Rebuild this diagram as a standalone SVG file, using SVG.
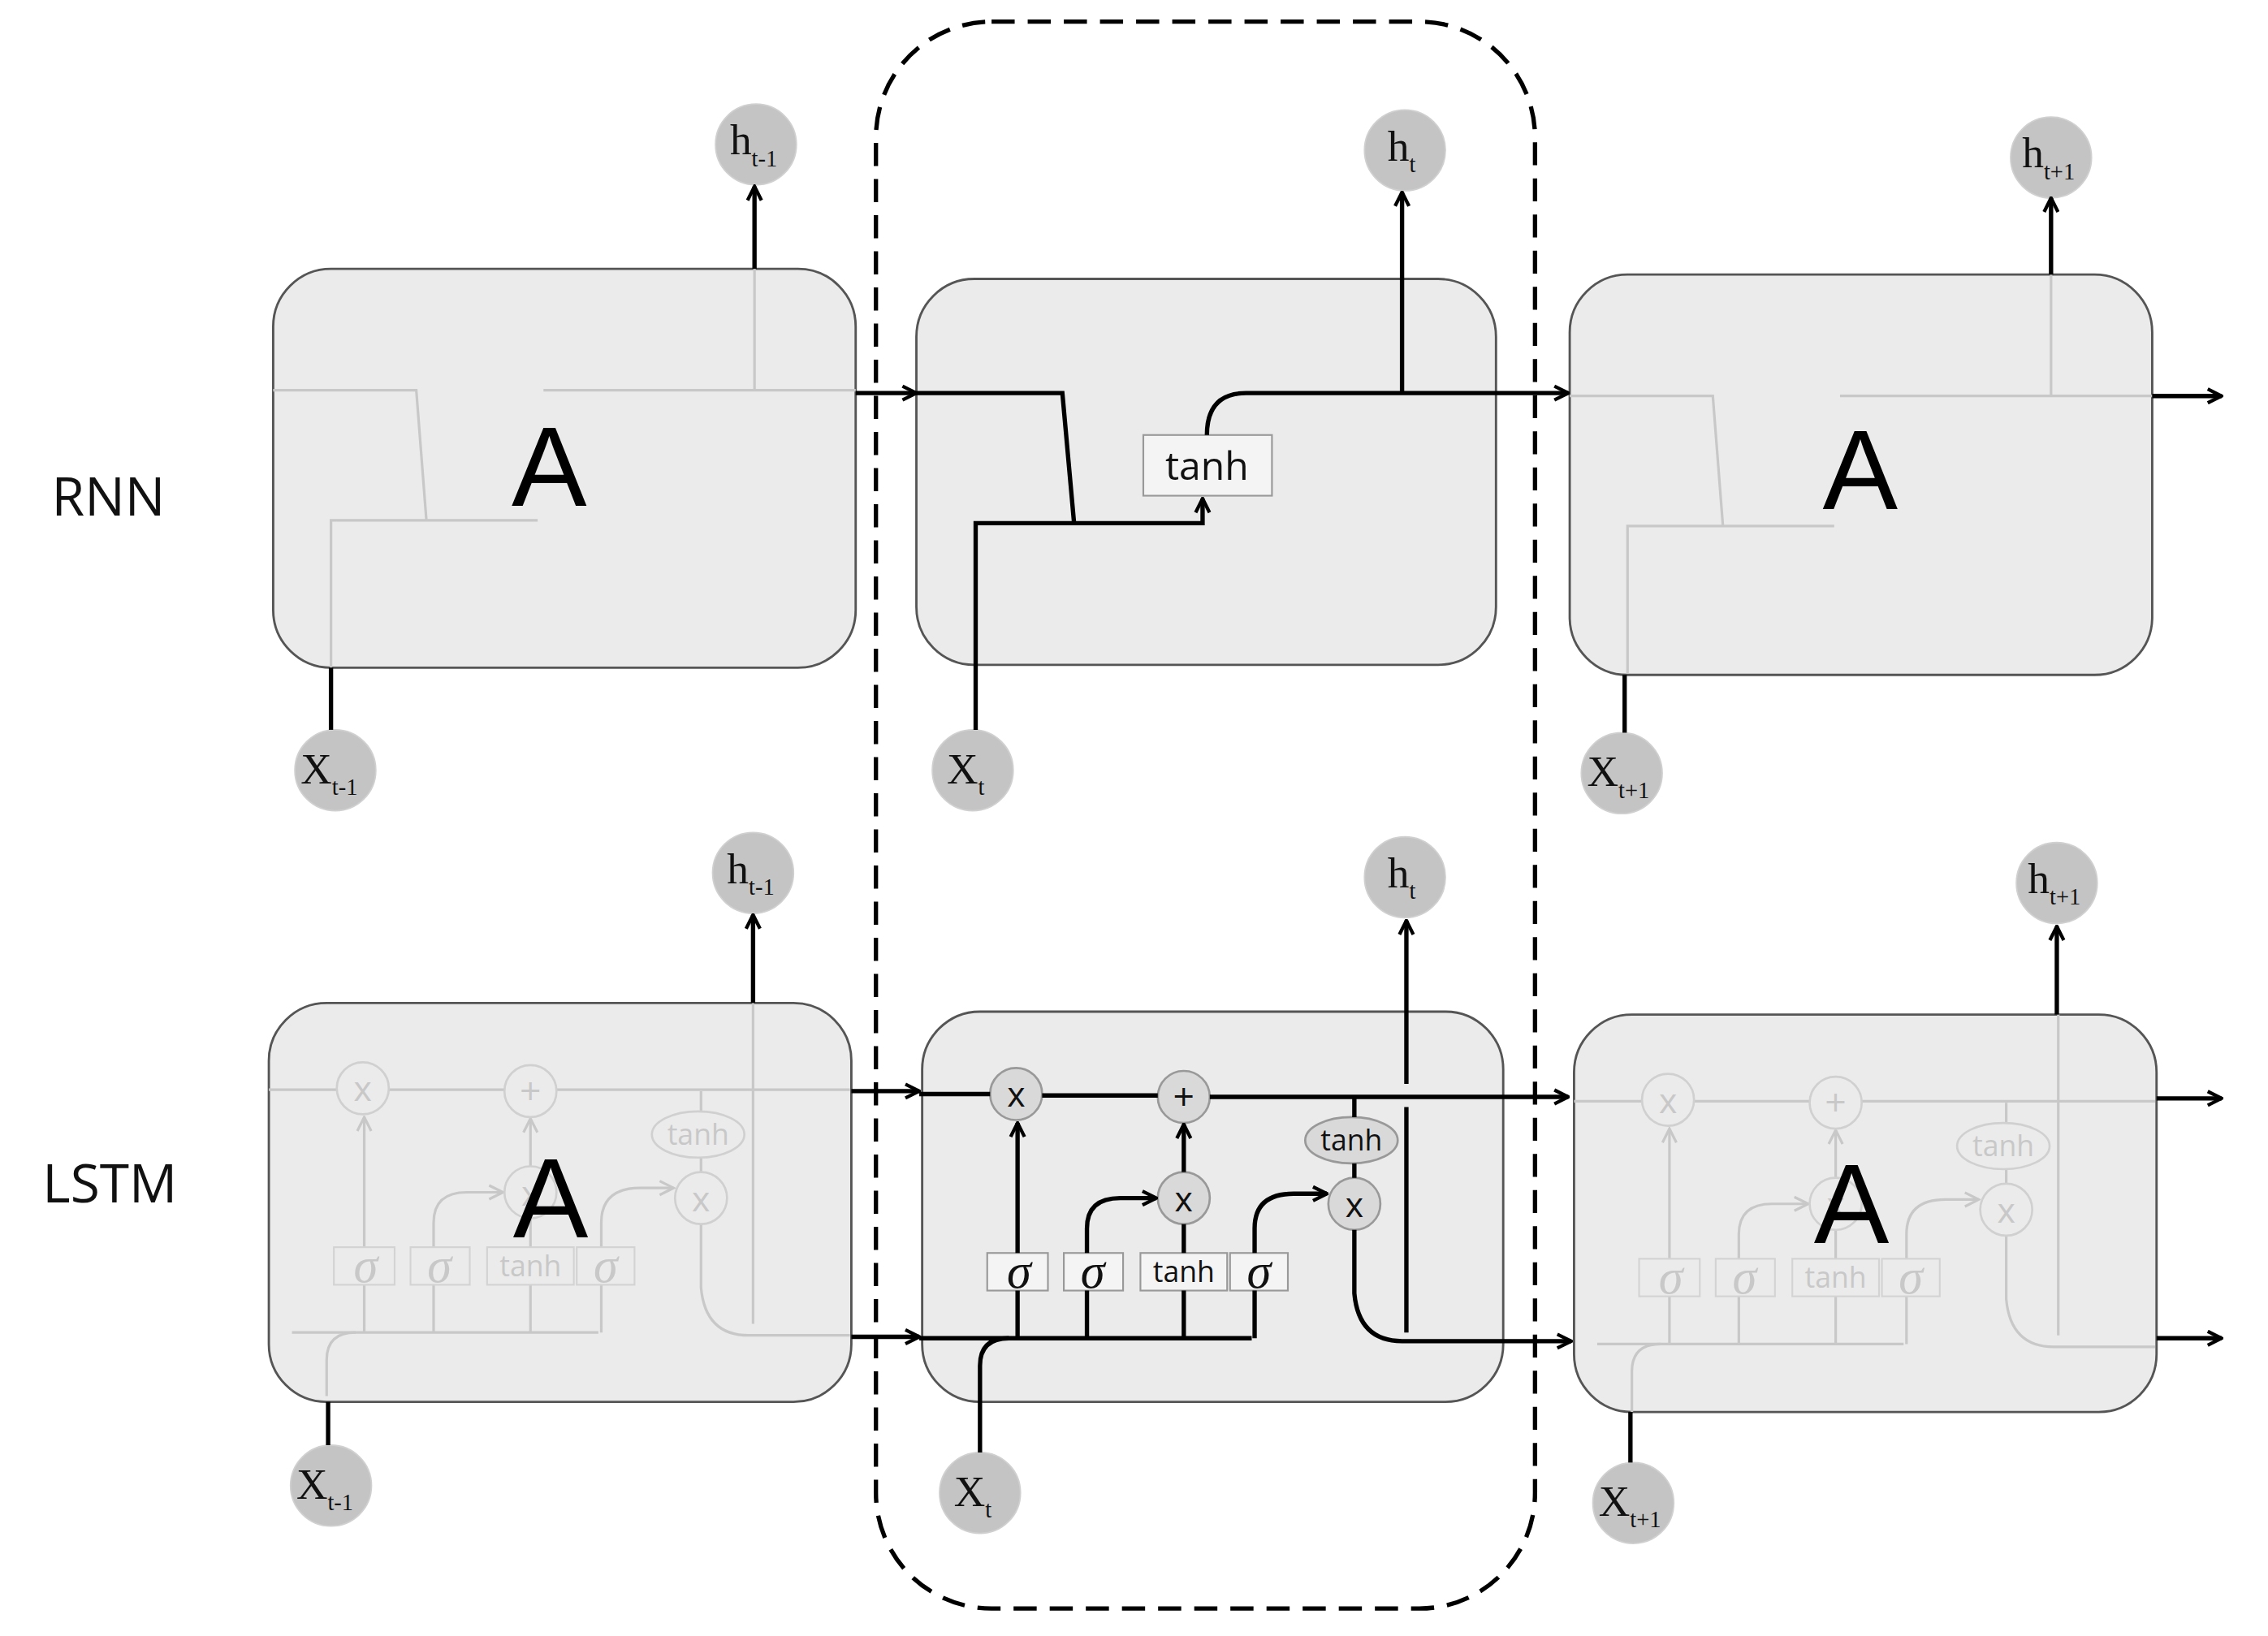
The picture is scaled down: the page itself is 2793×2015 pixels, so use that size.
<svg xmlns="http://www.w3.org/2000/svg" width="2793" height="2015" viewBox="0 0 2793 2015">
<style>
.box{fill:#ebebeb;stroke:#555;stroke-width:1.6}
.k{fill:none;stroke:#000;stroke-width:3}
.f{fill:none;stroke:#c8c8c8;stroke-width:1.8}
.io{fill:#c4c4c4;stroke:#d0d0d0;stroke-width:1}
.iot{font-family:"Liberation Serif",serif;font-size:30px;fill:#111}
.sub{font-size:16px}
.op{fill:#d9d9d9;stroke:#999;stroke-width:1.5}
.opf{fill:none;stroke:#d0d0d0;stroke-width:1.5}
.gb{fill:#f4f4f4;stroke:#999;stroke-width:1.2}
.gbf{fill:none;stroke:#d3d3d3;stroke-width:1.2}
.t{font-family:"Open Sans","DejaVu Sans",sans-serif;fill:#111;text-anchor:middle}
.tf{font-family:"Open Sans","DejaVu Sans",sans-serif;fill:#c8c8c8;text-anchor:middle}
.sg{font-family:"Liberation Serif",serif;font-style:italic;text-anchor:middle}
.A{font-family:"Liberation Sans",sans-serif;font-size:78px;fill:#000;text-anchor:middle}
.lbl{font-family:"Open Sans","DejaVu Sans",sans-serif;font-size:37px;fill:#111;text-anchor:middle}
</style>
<defs>
<marker id="ak" viewBox="0 0 10 10" refX="9" refY="5" markerWidth="12" markerHeight="12" markerUnits="userSpaceOnUse" orient="auto"><path d="M1,1 L9,5 L1,9" fill="none" stroke="#000" stroke-width="2"/></marker>
<marker id="af" viewBox="0 0 10 10" refX="9" refY="5" markerWidth="12" markerHeight="12" markerUnits="userSpaceOnUse" orient="auto"><path d="M1,1 L9,5 L1,9" fill="none" stroke="#c8c8c8" stroke-width="1.5"/></marker>
</defs>
<rect width="2793" height="2015" fill="#fff"/>
<g transform="scale(1.78)">
<rect id="focus" x="606" y="15" width="456" height="1098" rx="80" fill="none" stroke="#000" stroke-width="3" stroke-dasharray="16,9"/>
<text class="lbl" x="75" y="357">RNN</text>
<text class="lbl" x="76" y="832">LSTM</text>

<g id="rnn1">
<rect class="box" x="189" y="186" width="403" height="276" rx="40"/>
<path class="f" d="M189,270 H288 L295,360 M229,462 V360 H372 M376,270 H592 M522,270 V186"/>
<text class="A" x="380" y="350">A</text>
</g>
<g id="rnn2">
<rect class="box" x="634" y="193" width="401" height="267" rx="40"/>
<rect class="gb" x="791" y="301" width="89" height="42"/>
<text class="t" x="835" y="332" font-size="27">tanh</text>
</g>
<g id="rnn3">
<rect class="box" x="1086" y="190" width="403" height="277" rx="40"/>
<path class="f" d="M1086,274 H1185 L1192,364 M1126,466 V364 H1269 M1273,274 H1489 M1419,274 V190"/>
<text class="A" x="1287" y="352">A</text>
</g>

<g id="lstm1">
<rect class="box" x="186" y="694" width="403" height="276" rx="40"/>
<g transform="translate(-452,-4)">
<path class="f" d="M638,758 H685 M721,758 H801 M837,758 H1040"/>
<path class="f" d="M654,926 H866 M937,851 V895 Q940,928 970,928 H1040"/>
<path class="f" d="M704,867 V777" marker-end="url(#af)"/>
<path class="f" d="M704,926 V893 M752,926 V893 M819,926 V893 M868,926 V893 M819,867 V847 M937,759 V773 M937,805 V815"/>
<path class="f" d="M752,867 V850 Q752,829 775,829 H800" marker-end="url(#af)"/>
<path class="f" d="M819,811 V778" marker-end="url(#af)"/>
<path class="f" d="M868,867 V850 Q868,826 895,826 H918" marker-end="url(#af)"/>
<path class="f" d="M678,970 V945 Q678,926 698,926"/>
<path class="f" d="M973,920 V698"/>
<circle class="opf" cx="703" cy="757" r="18"/><circle class="opf" cx="819" cy="759" r="18"/>
<circle class="opf" cx="819" cy="829" r="18"/><circle class="opf" cx="937" cy="833" r="18"/>
<ellipse class="opf" cx="935" cy="789" rx="32" ry="16"/>
<rect class="gbf" x="683" y="867" width="42" height="26"/><rect class="gbf" x="736" y="867" width="41" height="26"/>
<rect class="gbf" x="789" y="867" width="60" height="26"/><rect class="gbf" x="851" y="867" width="40" height="26"/>
<text class="tf" x="703" y="766" font-size="24">x</text><text class="tf" x="819" y="768" font-size="26">+</text>
<text class="tf" x="819" y="838" font-size="24">x</text><text class="tf" x="937" y="842" font-size="24">x</text>
<text class="tf" x="935" y="796" font-size="20">tanh</text><text class="tf" x="819" y="887" font-size="20">tanh</text>
<text class="tf sg" x="705" y="891" font-size="34">σ</text><text class="tf sg" x="756" y="891" font-size="34">σ</text><text class="tf sg" x="871" y="891" font-size="34">σ</text>
</g>
<text class="A" x="381" y="856">A</text>
</g>

<g id="lstm2">
<rect class="box" x="638" y="700" width="402" height="270" rx="40"/>
<circle class="op" cx="703" cy="757" r="18"/><circle class="op" cx="819" cy="759" r="18"/>
<circle class="op" cx="819" cy="829" r="18"/><circle class="op" cx="937" cy="833" r="18"/>
<ellipse class="op" cx="935" cy="789" rx="32" ry="16"/>
<rect class="gb" x="683" y="867" width="42" height="26"/><rect class="gb" x="736" y="867" width="41" height="26"/>
<rect class="gb" x="789" y="867" width="60" height="26"/><rect class="gb" x="851" y="867" width="40" height="26"/>
<text class="t" x="703" y="766" font-size="24">x</text><text class="t" x="819" y="768" font-size="26">+</text>
<text class="t" x="819" y="838" font-size="24">x</text><text class="t" x="937" y="842" font-size="24">x</text>
<text class="t" x="935" y="796" font-size="20">tanh</text><text class="t" x="819" y="887" font-size="20">tanh</text>
<text class="t sg" x="705" y="891" font-size="34">σ</text><text class="t sg" x="756" y="891" font-size="34">σ</text><text class="t sg" x="871" y="891" font-size="34">σ</text>
</g>

<g id="lstm3">
<rect class="box" x="1089" y="702" width="403" height="275" rx="40"/>
<g transform="translate(451,4)">
<path class="f" d="M638,758 H685 M721,758 H801 M837,758 H1040"/>
<path class="f" d="M654,926 H866 M937,851 V895 Q940,928 970,928 H1040"/>
<path class="f" d="M704,867 V777" marker-end="url(#af)"/>
<path class="f" d="M704,926 V893 M752,926 V893 M819,926 V893 M868,926 V893 M819,867 V847 M937,759 V773 M937,805 V815"/>
<path class="f" d="M752,867 V850 Q752,829 775,829 H800" marker-end="url(#af)"/>
<path class="f" d="M819,811 V778" marker-end="url(#af)"/>
<path class="f" d="M868,867 V850 Q868,826 895,826 H918" marker-end="url(#af)"/>
<path class="f" d="M678,973 V945 Q678,926 698,926"/>
<path class="f" d="M973,920 V698"/>
<circle class="opf" cx="703" cy="757" r="18"/><circle class="opf" cx="819" cy="759" r="18"/>
<circle class="opf" cx="819" cy="829" r="18"/><circle class="opf" cx="937" cy="833" r="18"/>
<ellipse class="opf" cx="935" cy="789" rx="32" ry="16"/>
<rect class="gbf" x="683" y="867" width="42" height="26"/><rect class="gbf" x="736" y="867" width="41" height="26"/>
<rect class="gbf" x="789" y="867" width="60" height="26"/><rect class="gbf" x="851" y="867" width="40" height="26"/>
<text class="tf" x="703" y="766" font-size="24">x</text><text class="tf" x="819" y="768" font-size="26">+</text>
<text class="tf" x="819" y="838" font-size="24">x</text><text class="tf" x="937" y="842" font-size="24">x</text>
<text class="tf" x="935" y="796" font-size="20">tanh</text><text class="tf" x="819" y="887" font-size="20">tanh</text>
<text class="tf sg" x="705" y="891" font-size="34">σ</text><text class="tf sg" x="756" y="891" font-size="34">σ</text><text class="tf sg" x="871" y="891" font-size="34">σ</text>
</g>
<text class="A" x="1281" y="860">A</text>
</g>

<g id="h_rnn1"><circle class="io" cx="523" cy="100" r="28"/><text class="iot" x="505" y="107">h<tspan class="sub" dy="8">t-1</tspan></text></g>
<g id="h_rnn2"><circle class="io" cx="972" cy="104" r="28"/><text class="iot" x="960" y="111">h<tspan class="sub" dy="8">t</tspan></text></g>
<g id="h_rnn3"><circle class="io" cx="1419" cy="109" r="28"/><text class="iot" x="1399" y="116">h<tspan class="sub" dy="8">t+1</tspan></text></g>
<g id="x_rnn1"><circle class="io" cx="232" cy="533" r="28"/><text class="iot" x="208" y="542">X<tspan class="sub" dy="8">t-1</tspan></text></g>
<g id="x_rnn2"><circle class="io" cx="673" cy="533" r="28"/><text class="iot" x="655" y="542">X<tspan class="sub" dy="8">t</tspan></text></g>
<g id="x_rnn3"><circle class="io" cx="1122" cy="535" r="28"/><text class="iot" x="1098" y="544">X<tspan class="sub" dy="8">t+1</tspan></text></g>
<g id="h_lstm1"><circle class="io" cx="521" cy="604" r="28"/><text class="iot" x="503" y="611">h<tspan class="sub" dy="8">t-1</tspan></text></g>
<g id="h_lstm2"><circle class="io" cx="972" cy="607" r="28"/><text class="iot" x="960" y="614">h<tspan class="sub" dy="8">t</tspan></text></g>
<g id="h_lstm3"><circle class="io" cx="1423" cy="611" r="28"/><text class="iot" x="1403" y="618">h<tspan class="sub" dy="8">t+1</tspan></text></g>
<g id="x_lstm1"><circle class="io" cx="229" cy="1028" r="28"/><text class="iot" x="205" y="1037">X<tspan class="sub" dy="8">t-1</tspan></text></g>
<g id="x_lstm2"><circle class="io" cx="678" cy="1033" r="28"/><text class="iot" x="660" y="1042">X<tspan class="sub" dy="8">t</tspan></text></g>
<g id="x_lstm3"><circle class="io" cx="1130" cy="1040" r="28"/><text class="iot" x="1106" y="1049">X<tspan class="sub" dy="8">t+1</tspan></text></g>

<g id="connectors">
<path class="k" d="M522,186 V129" marker-end="url(#ak)"/>
<path class="k" d="M229,462 V505"/>
<path class="k" d="M592,272 H634" marker-end="url(#ak)"/>
<path class="k" d="M634,272 H735 L743,361"/>
<path class="k" d="M675,505 V362 H832 V345" marker-end="url(#ak)"/>
<path class="k" d="M835,301 Q835,272 862,272 H1085" marker-end="url(#ak)"/>
<path class="k" d="M970,272 V133" marker-end="url(#ak)"/>
<path class="k" d="M1124,467 V507"/>
<path class="k" d="M1419,190 V137" marker-end="url(#ak)"/>
<path class="k" d="M1489,274 H1537" marker-end="url(#ak)"/>
<path class="k" d="M521,694 V633" marker-end="url(#ak)"/>
<path class="k" d="M227,970 V1000"/>
<path class="k" d="M589,755 H636" marker-end="url(#ak)"/>
<path class="k" d="M589,925 H636" marker-end="url(#ak)"/>
<path class="k" d="M636,757 H685 M721,758 H801 M837,759 H1085" marker-end="url(#ak)"/>
<path class="k" d="M636,926 H866"/>
<path class="k" d="M704,926 V893"/>
<path class="k" d="M704,867 V777" marker-end="url(#ak)"/>
<path class="k" d="M752,926 V893 M819,926 V893 M868,926 V893 M819,867 V847 M937,759 V773 M937,805 V815"/>
<path class="k" d="M752,867 V850 Q752,829 775,829 H800" marker-end="url(#ak)"/>
<path class="k" d="M819,811 V778" marker-end="url(#ak)"/>
<path class="k" d="M868,867 V850 Q868,826 895,826 H918" marker-end="url(#ak)"/>
<path class="k" d="M678,1005 V945 Q678,926 698,926"/>
<path class="k" d="M937,851 V895 Q940,928 970,928 H1087" marker-end="url(#ak)"/>
<path class="k" d="M973,922 V766 M973,750 V637" marker-end="url(#ak)"/>
<path class="k" d="M1128,977 V1012"/>
<path class="k" d="M1423,702 V641" marker-end="url(#ak)"/>
<path class="k" d="M1492,760 H1537" marker-end="url(#ak)"/>
<path class="k" d="M1492,926 H1537" marker-end="url(#ak)"/>
</g>
</g>
</svg>
